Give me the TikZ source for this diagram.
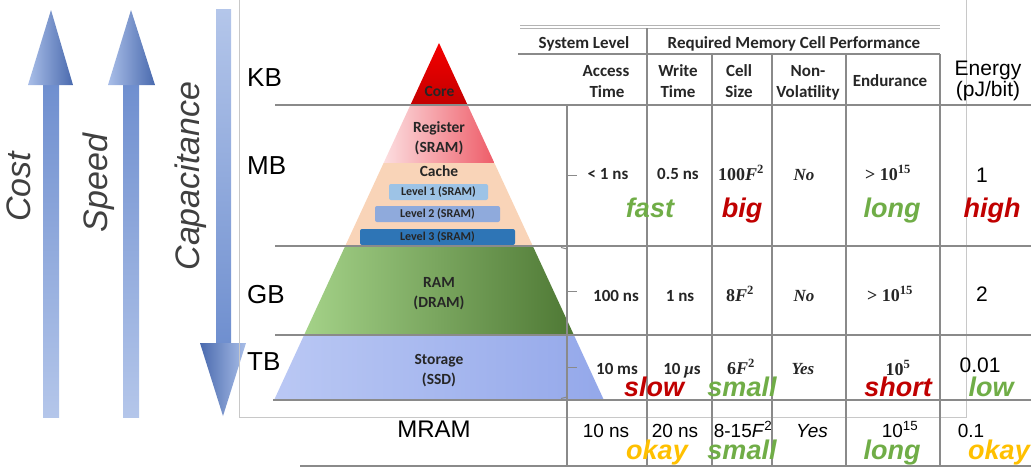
\documentclass[tikz,border=0pt]{standalone}
\usepackage{fontspec}
\setmainfont{Liberation Sans}
\newfontfamily\calfont{Carlito}
\newfontfamily\serfont{Liberation Serif}
\definecolor{txt}{HTML}{262626}
\definecolor{gridc}{HTML}{8A8A8A}
\definecolor{framec}{HTML}{C8C8C8}
\definecolor{gr}{HTML}{70AD47}
\definecolor{rd}{HTML}{C00000}
\definecolor{yl}{HTML}{FFC000}
\definecolor{lab}{HTML}{404040}
\definecolor{arrL}{HTML}{B4C6EA}
\definecolor{arrM}{HTML}{6F8FCF}
\definecolor{arrD}{HTML}{4A6AAE}
\definecolor{arrH}{HTML}{A9BEE8}
\definecolor{lvA}{HTML}{9DC3E6}
\definecolor{lvB}{HTML}{8FAADC}
\definecolor{lvC}{HTML}{2E75B6}
\begin{document}
\begin{tikzpicture}[x=1pt,y=-1pt,
  hdr/.style={font=\calfont\bfseries\fontsize{17}{20}\selectfont, text=txt, inner sep=0pt, anchor=base},
  cellt/.style={font=\calfont\bfseries\fontsize{17}{20}\selectfont, text=txt, inner sep=0pt, anchor=base},
  sert/.style={font=\serfont\bfseries\fontsize{18}{20}\selectfont, text=txt, inner sep=0pt, anchor=base},
  arl/.style={font=\fontsize{21}{24}\selectfont, text=black, inner sep=0pt, anchor=base},
  mrt/.style={font=\fontsize{19}{22}\selectfont, text=black, inner sep=0pt, anchor=base},
  word/.style={font=\bfseries\itshape\fontsize{27}{30}\selectfont, inner sep=0pt, anchor=base},
  pyr/.style={font=\calfont\bfseries\fontsize{15.5}{18}\selectfont, text=txt, inner sep=0pt, anchor=base},
  lvl/.style={rounded corners=2pt, minimum height=16pt, font=\calfont\bfseries\fontsize{12}{14}\selectfont, text=txt, inner sep=0pt},
  caplab/.style={font=\fontsize{26}{30}\selectfont, text=black, inner sep=0pt, anchor=base},
  axislab/.style={font=\itshape\fontsize{34}{40}\selectfont, text=lab, inner sep=0pt, anchor=base, rotate=90},
  gridl/.style={draw=gridc, line width=1.3pt},
  framel/.style={draw=framec, line width=1pt}
]
\useasboundingbox (0,0) rectangle (1031,467);

% ---- left arrows
\shade[top color=arrM, bottom color=arrL] (43,84) rectangle (59,417);
\shade[left color=arrH, right color=arrD] (28,85) -- (51,10) -- (73,85) -- cycle;
\shade[top color=arrM, bottom color=arrL] (123,84) rectangle (139,417);
\shade[left color=arrH, right color=arrD] (108,85) -- (131,10) -- (155,85) -- cycle;
\shade[top color=arrL, bottom color=arrM] (216,9) rectangle (231,344);
\shade[left color=arrD, right color=arrH] (200,343) -- (223,416) -- (246,343) -- cycle;

\node[axislab] (cost) at (30,187) {Cost};
\node[axislab] (speed) at (107,183) {Speed};
\node[axislab] (capac) at (199,176) {Capacitance};

% ---- frame
\draw[framel] (239,-2) -- (239,417) -- (966,417) -- (966,-2);

% ---- pyramid
\shade[top color={rgb,255:red,245;green,0;blue,0}, bottom color={rgb,255:red,195;green,0;blue,0}] (439,43) -- (467.6,105) -- (410.4,105) -- cycle;
\shade[left color={rgb,255:red,252;green,222;blue,224}, right color={rgb,255:red,238;green,92;blue,104}] (410.4,105) -- (467.6,105) -- (494.4,163) -- (383.6,163) -- cycle;
\fill[fill={rgb,255:red,249;green,212;blue,184}] (383.6,163) -- (494.4,163) -- (532.8,246) -- (345.2,246) -- cycle;
\shade[left color={rgb,255:red,164;green,210;blue,136}, right color={rgb,255:red,78;green,120;blue,52}] (345.2,246) -- (532.8,246) -- (573.9,335) -- (304.1,335) -- cycle;
\shade[left color={rgb,255:red,186;green,200;blue,244}, right color={rgb,255:red,148;green,168;blue,234}] (304.1,335) -- (573.9,335) -- (603.9,400) -- (274.1,400) -- cycle;

\node[pyr] (core) at (439.5,96) {Core};
\node[pyr] (reg1) at (439,132) {Register};
\node[pyr] (reg2) at (439,152) {(SRAM)};
\node[pyr] (cache) at (439,176) {Cache};
\node[lvl, fill=lvA, minimum width=99pt] (lv1) at (438.5,192) {Level 1 (SRAM)};
\node[lvl, fill=lvB, minimum width=125pt] (lv2) at (437.5,214) {Level 2 (SRAM)};
\node[lvl, fill=lvC, minimum width=155pt] (lv3) at (437.5,237) {Level 3 (SRAM)};
\node[pyr] (ram1) at (439,287) {RAM};
\node[pyr] (ram2) at (439,307) {(DRAM)};
\node[pyr] (sto1) at (439,364) {Storage};
\node[pyr] (sto2) at (439,384) {(SSD)};

% ---- capacity labels
\node[caplab, anchor=base west] (kb) at (247,86) {KB};
\node[caplab, anchor=base west] (mb) at (247,174) {MB};
\node[caplab, anchor=base west] (gb) at (247,303) {GB};
\node[caplab, anchor=base west] (tb) at (247,370) {TB};
\node[font=\fontsize{24}{28}\selectfont, inner sep=0pt, anchor=base] (mram) at (434,437) {MRAM};

% ---- table lines
\draw[draw=framec!90!black, line width=1pt] (520,25) -- (940,25) (520,28.5) -- (940,28.5);
\draw[gridl] (518,54) -- (940,54);
\draw[gridl] (275,105) -- (1031,105);
\draw[gridl] (275,246) -- (1031,246);
\draw[gridl] (275,335) -- (1031,335);
\draw[gridl] (273,400) -- (1031,400);
\draw[gridl] (300,466) -- (1031,466);
\draw[gridl] (647,28) -- (647,466);
\draw[gridl] (712,54) -- (712,466);
\draw[gridl] (772,54) -- (772,466);
\draw[gridl] (846,54) -- (846,466);
\draw[gridl] (940,54) -- (940,466);
\draw[gridl] (567,105) -- (567,466);
\draw[gridl, line width=1pt] (567,175) -- (577,175) (567,291) -- (577,291) (567,367) -- (577,367);
\draw[gridl, line width=1pt] (561,247.5) -- (567,249) (561,398.5) -- (567,397);

% ---- headers
\node[hdr] (sys) at (584,48) {System Level};
\node[hdr] (req) at (794,48) {Required Memory Cell Performance};
\node[hdr] (h1a) at (606,76) {Access};
\node[hdr] (h1b) at (607,97) {Time};
\node[hdr] (h2a) at (678,76) {Write};
\node[hdr] (h2b) at (678,97) {Time};
\node[hdr] (h3a) at (739,76) {Cell};
\node[hdr] (h3b) at (739,97) {Size};
\node[hdr] (h4a) at (808,76) {Non-};
\node[hdr] (h4b) at (808,97) {Volatility};
\node[hdr] (h5) at (890,86) {Endurance};
\node[arl] (h6a) at (988,75) {Energy};
\node[arl] (h6b) at (988,96) {(pJ/bit)};

% ---- row MB
\node[cellt] (a1) at (608,179) {< 1 ns};
\node[cellt] (b1) at (678,179) {0.5 ns};
\node[sert] (c1) at (741,180) {100\textit{F}\textsuperscript{2}};
\node[sert, font=\serfont\bfseries\itshape\fontsize{17}{20}\selectfont] (d1) at (804,180) {No};
\node[sert] (e1) at (888,180) {> 10\textsuperscript{15}};
\node[arl] (f1) at (982,182) {1};
\node[word, text=gr] (w11) at (650,217) {fast};
\node[word, text=rd] (w12) at (742,217) {big};
\node[word, text=gr] (w13) at (892,217) {long};
\node[word, text=rd] (w14) at (992,217) {high};

% ---- row GB
\node[cellt] (a2) at (616,301) {100 ns};
\node[cellt] (b2) at (680,301) {1 ns};
\node[sert] (c2) at (740,301) {8\textit{F}\textsuperscript{2}};
\node[sert, font=\serfont\bfseries\itshape\fontsize{17}{20}\selectfont] (d2) at (804,301) {No};
\node[sert] (e2) at (890,301) {> 10\textsuperscript{15}};
\node[arl] (f2) at (982,301) {2};

% ---- row TB
\node[cellt] (a3) at (617,374) {10 ms};
\node[cellt] (b3) at (682,374) {10 {\serfont\itshape μ}s};
\node[sert] (c3) at (741,374) {6\textit{F}\textsuperscript{2}};
\node[sert, font=\serfont\bfseries\itshape\fontsize{17}{20}\selectfont] (d3) at (803,374) {Yes};
\node[sert] (e3) at (898,375) {10\textsuperscript{5}};
\node[arl] (f3) at (980,372) {0.01};
\node[word, text=rd] (w31) at (654,396) {slow};
\node[word, text=gr] (w32) at (742,396) {small};
\node[word, text=rd] (w33) at (898,396) {short};
\node[word, text=gr] (w34) at (991,396) {low};

% ---- row MRAM
\node[mrt] (a4) at (606,437) {10 ns};
\node[mrt] (b4) at (675,437) {20 ns};
\node[mrt] (c4) at (743,437) {8-15\textit{F}\textsuperscript{2}};
\node[mrt, font=\itshape\fontsize{19}{22}\selectfont] (d4) at (812,437) {Yes};
\node[mrt] (e4) at (900,437) {10\textsuperscript{15}};
\node[mrt] (f4) at (971,437) {0.1};
\node[word, text=yl] (w41) at (657,459) {okay};
\node[word, text=gr] (w42) at (742,459) {small};
\node[word, text=gr] (w43) at (892,459) {long};
\node[word, text=yl] (w44) at (999,459) {okay};
\end{tikzpicture}
\end{document}
